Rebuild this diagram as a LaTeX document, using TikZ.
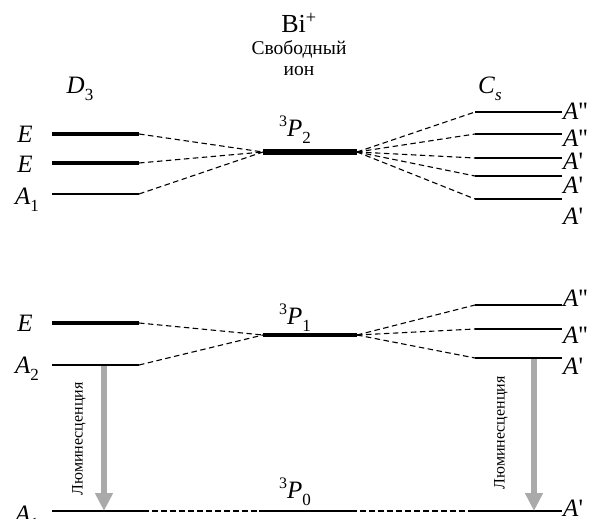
\documentclass[tikz,border=0pt]{standalone}
\usepackage{fontspec}
\setmainfont{Liberation Serif}
\usetikzlibrary{arrows.meta}
\definecolor{lumgray}{RGB}{170,170,170}
\newcommand\lsb[1]{\raisebox{-0.28em}{\fontsize{17}{17}\selectfont #1}}
\newcommand\lsp[1]{\raisebox{0.40em}{\fontsize{16}{16}\selectfont #1}}
\newcommand\App{\textit{A}\textquotesingle\textquotesingle}
\newcommand\Ap{\textit{A}\textquotesingle}
\tikzset{
 lvl/.style={line width=2.2pt},
 lvlthick/.style={line width=3.3pt},
 lvlbar/.style={line width=5.5pt},
 conn/.style={line width=1.1pt, dash pattern=on 5.5pt off 3.5pt},
 lbl/.style={inner sep=0pt, anchor=base, font=\fontsize{25}{28}\selectfont},
 rlbl/.style={lbl, anchor=base west},
 capt/.style={inner sep=0pt, anchor=base},
 lumtext/.style={inner sep=0pt, rotate=90, font=\fontsize{16}{16}\selectfont},
 emarrow/.style={line width=6pt, draw=lumgray, -{Triangle[length=18pt,width=17pt]}},
}
\begin{document}
\begin{tikzpicture}[x=1pt,y=-1pt]
\useasboundingbox (0,0) rectangle (589,519);
% headers
\node[capt, font=\fontsize{26}{30}\selectfont] (bi) at (299,33) {Bi\textsuperscript{+}};
\node[capt, font=\fontsize{19.5}{22}\selectfont] (svob) at (299,55) {Свободный};
\node[capt, font=\fontsize{19.5}{22}\selectfont] (ion) at (299,76) {ион};
\node[lbl] (d3) at (80,93) {\textit{D}\lsb{3}};
\node[lbl] (cs) at (490,93) {\textit{C}\lsb{\textit{s}}};

% ---------- 3P2 group ----------
\coordinate (t1a) at (52,134); \coordinate (t1b) at (139,134);
\coordinate (t2a) at (52,163); \coordinate (t2b) at (139,163);
\coordinate (t3a) at (52,194); \coordinate (t3b) at (139,194);
\coordinate (p2a) at (263,152); \coordinate (p2b) at (357,152);
\coordinate (r1a) at (475,112); \coordinate (r1b) at (562,112);
\coordinate (r2a) at (475,134); \coordinate (r2b) at (562,134);
\coordinate (r3a) at (475,158); \coordinate (r3b) at (562,158);
\coordinate (r4a) at (475,176); \coordinate (r4b) at (562,176);
\coordinate (r5a) at (475,199); \coordinate (r5b) at (562,199);
\draw[lvlthick] (t1a) -- (t1b);
\draw[lvlthick] (t2a) -- (t2b);
\draw[lvl] (t3a) -- (t3b);
\draw[lvlbar] (p2a) -- (p2b);
\foreach \r in {r1,r2,r3,r4,r5} {\draw[lvl] (\r a) -- (\r b);}
\foreach \t in {t1,t2,t3} {\draw[conn] (\t b) -- (p2a);}
\foreach \r in {r1,r2,r3,r4,r5} {\draw[conn] (p2b) -- (\r a);}
\node[lbl] (lE1) at (25,142) {\textit{E}};
\node[lbl] (lE2) at (25,172) {\textit{E}};
\node[lbl] (lA1) at (27,204) {\textit{A}\lsb{1}};
\node[lbl] (lp2) at (295,136) {\lsp{3}\textit{P}\lsb{2}};
\node[rlbl] (rl1) at (563,119) {\App};
\node[rlbl] (rl2) at (563,146) {\App};
\node[rlbl] (rl3) at (563,169) {\Ap};
\node[rlbl] (rl4) at (563,193) {\Ap};
\node[rlbl] (rl5) at (563,224) {\Ap};

% ---------- 3P1 group ----------
\coordinate (m1a) at (52,323); \coordinate (m1b) at (139,323);
\coordinate (m2a) at (52,365); \coordinate (m2b) at (139,365);
\coordinate (p1a) at (263,335); \coordinate (p1b) at (357,335);
\coordinate (s1a) at (475,305); \coordinate (s1b) at (562,305);
\coordinate (s2a) at (475,329); \coordinate (s2b) at (562,329);
\coordinate (s3a) at (475,358); \coordinate (s3b) at (562,358);
\draw[lvlthick] (m1a) -- (m1b);
\draw[lvl] (m2a) -- (m2b);
\draw[lvlbar, line width=4.5pt] (p1a) -- (p1b);
\foreach \r in {s1,s2,s3} {\draw[lvl] (\r a) -- (\r b);}
\foreach \t in {m1,m2} {\draw[conn] (\t b) -- (p1a);}
\foreach \r in {s1,s2,s3} {\draw[conn] (p1b) -- (\r a);}
\node[lbl] (lE3) at (25,331) {\textit{E}};
\node[lbl] (lA2) at (27,373) {\textit{A}\lsb{2}};
\node[lbl] (lp1) at (295,324) {\lsp{3}\textit{P}\lsb{1}};
\node[rlbl] (sl1) at (563,306) {\App};
\node[rlbl] (sl2) at (563,343) {\App};
\node[rlbl] (sl3) at (563,374) {\Ap};

% ---------- 3P0 ----------
\coordinate (b1a) at (52,511); \coordinate (b1b) at (143,511);
\coordinate (p0a) at (259,511); \coordinate (p0b) at (351,511);
\coordinate (b2a) at (472,511); \coordinate (b2b) at (562,511);
\draw[lvl] (b1a) -- (b1b);
\draw[lvl] (p0a) -- (p0b);
\draw[lvl] (b2a) -- (b2b);
\draw[conn] (b1b) -- (p0a);
\draw[conn] (p0b) -- (b2a);
\node[lbl] (lA1b) at (27,522) {\textit{A}\lsb{1}};
\node[lbl] (lp0) at (295,498) {\lsp{3}\textit{P}\lsb{0}};
\node[rlbl] (bl) at (563,516) {\Ap};

% ---------- luminescence ----------
\coordinate (al0) at (104,366); \coordinate (al1) at (104,511);
\coordinate (ar0) at (534,359); \coordinate (ar1) at (534,511);
\draw[emarrow] (al0) -- (al1);
\draw[emarrow] (ar0) -- (ar1);
\node[lumtext] (luml) at (79,439) {Люминесценция};
\node[lumtext] (lumr) at (501,433) {Люминесценция};
\end{tikzpicture}
\end{document}
